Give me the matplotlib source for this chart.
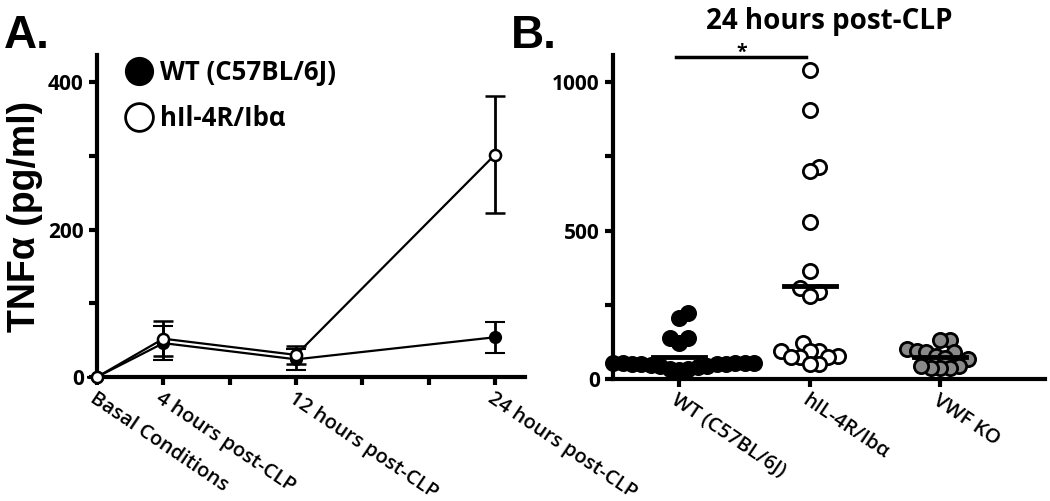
import matplotlib.pyplot as plt
from matplotlib.lines import Line2D
import numpy as np

# panel A: time course (mean +/- SEM)
hours = [0, 4, 12, 24]
hour_labels = ['Basal Conditions', '4 hours post-CLP', '12 hours post-CLP', '24 hours post-CLP']
wt_mean = [0, 46, 24, 54]
wt_err = [0, 23, 14, 21]
hil_mean = [0, 52, 30, 302]
hil_err = [0, 24, 12, 79]

# panel B: individual mice at 24 h
groups = ['WT (C57BL/6J)', 'hIL-4R/Ib\u03b1', 'VWF KO']
wt_24h = [222, 205, 138, 121, 138, 46, 43, 35, 52, 55, 54, 53, 55, 52, 50, 40, 34, 31, 45, 49, 53]
hil_24h = [1040, 905, 715, 702, 530, 365, 305, 292, 280, 122, 95, 95, 95, 78, 75, 75, 75, 52, 52]
vwf_24h = [130, 130, 100, 95, 90, 92, 78, 72, 68, 45, 38, 36, 38, 45]

sans = ['Open Sans', 'DejaVu Sans']
arial = ['Liberation Sans', 'DejaVu Sans']


def swarm(vals, dx, dy):
    # simple beeswarm: push each point sideways until it doesn't overlap
    vals = np.asarray(vals, float)
    cand = [0.0]
    for k in range(1, 60):
        cand += [k * dx / 4, -k * dx / 4]
    xs = np.zeros(len(vals))
    placed = []
    for i in np.argsort(vals):
        for c in cand:
            ok = all(((c - px) / dx) ** 2 + ((vals[i] - py) / dy) ** 2 >= 1 for px, py in placed)
            if ok:
                xs[i] = c
                placed.append((c, vals[i]))
                break
    return xs


def style_axes(ax):
    for s in ['top', 'right']:
        ax.spines[s].set_visible(False)
    for s in ['left', 'bottom']:
        ax.spines[s].set_linewidth(3)
    ax.tick_params(width=3, length=6, labelsize=15)


fig = plt.figure(figsize=(10.5, 5.01), dpi=100)

# ---- A ----
ax = fig.add_axes([0.0924, 0.2475, 0.4076, 0.6425])
style_axes(ax)
ax.errorbar(hours, wt_mean, yerr=wt_err, color='black', lw=1.6, marker='o', ms=8,
            mfc='black', mec='black', mew=1.5, capsize=7.5, capthick=2.5, elinewidth=2, clip_on=False, zorder=3)
ax.errorbar(hours, hil_mean, yerr=hil_err, color='black', lw=1.6, marker='o', ms=8,
            mfc='white', mec='black', mew=1.8, capsize=7.5, capthick=2.5, elinewidth=2, clip_on=False, zorder=4)
ax.set_xlim(0, 25.8)
ax.set_ylim(0, 437)
ax.set_xticks(range(0, 25, 4))
ax.set_xticklabels([hour_labels[hours.index(h)] if h in hours else '' for h in range(0, 25, 4)],
                   rotation=-34, ha='left', va='top', rotation_mode='anchor', family=sans,
                   fontsize=14.5, fontweight='semibold')
ax.tick_params(axis='x', pad=2)
ax.set_yticks([0, 100, 200, 300, 400])
ax.set_yticklabels(['0', '', '200', '', '400'], family=sans, fontweight='bold')
ax.set_ylabel('TNF\u03b1 (pg/ml)', family=arial, fontweight='bold', fontsize=27, labelpad=4)
handles = [Line2D([], [], ls='none', marker='o', ms=20, mfc='black', mec='black'),
           Line2D([], [], ls='none', marker='o', ms=20, mfc='white', mec='black', mew=2)]
ax.legend(handles, ['WT (C57BL/6J)', 'hIl-4R/Ib\u03b1'], loc='upper left', bbox_to_anchor=(0.007, 1.06),
          frameon=False, prop={'family': sans, 'weight': 'bold', 'size': 18.5}, handletextpad=0.25,
          labelspacing=0.75, handlelength=1.2)
fig.text(0.004, 0.905, 'A.', family=arial, fontweight='bold', fontsize=33)

# ---- B ----
bx = fig.add_axes([0.5838, 0.2435, 0.4112, 0.6465])
style_axes(bx)
data = [wt_24h, hil_24h, vwf_24h]
fills = ['black', 'white', '#8a8a8a']
for i, (vals, fc) in enumerate(zip(data, fills)):
    off = swarm(vals, 0.072, 38)
    bx.scatter(i + off, vals, s=105, facecolor=fc, edgecolor='black', linewidth=2, zorder=3, clip_on=False)
    m = np.mean(vals)
    bx.plot([i - 0.2, i + 0.2], [m, m], color='black', lw=3.5, zorder=4)
bx.set_xlim(-0.506, 2.8)
bx.set_ylim(0, 1091)
bx.set_xticks(range(len(groups)))
bx.set_xticklabels(groups, rotation=-34, ha='left', va='top', rotation_mode='anchor', family=sans,
                   fontsize=14.5, fontweight='semibold')
bx.tick_params(axis='x', pad=2)
bx.set_yticks([0, 250, 500, 750, 1000])
bx.set_yticklabels(['0', '', '500', '', '1000'], family=sans, fontweight='bold')
bx.plot([-0.02, 0.97], [1084, 1084], color='black', lw=2.5, clip_on=False)
bx.text(0.48, 1082, '*', ha='center', va='baseline', fontsize=14, fontweight='bold', family=sans)
bx.set_title('24 hours post-CLP', family=sans, fontweight='bold', fontsize=20, pad=19)
fig.text(0.487, 0.905, 'B.', family=arial, fontweight='bold', fontsize=33)

fig.savefig('out.png', dpi=100)
